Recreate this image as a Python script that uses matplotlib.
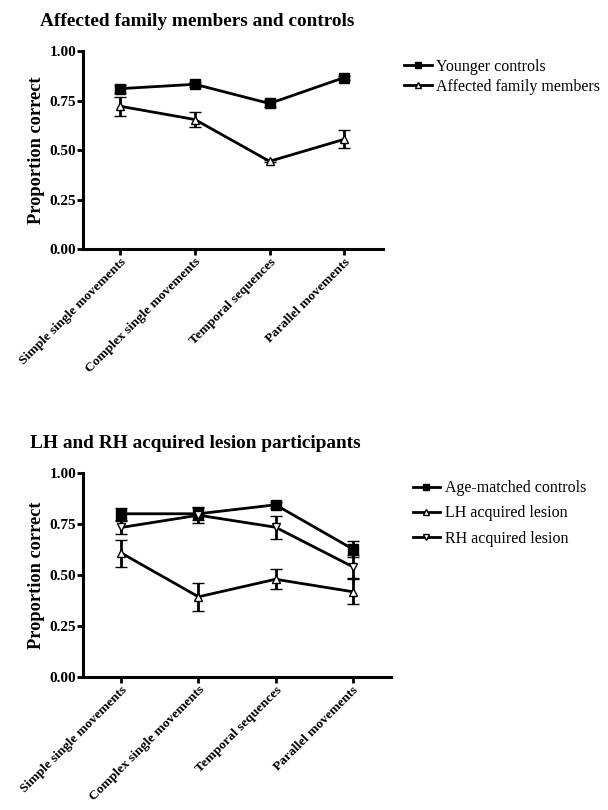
import matplotlib.pyplot as plt

plt.rcParams['font.family'] = ['Liberation Serif', 'DejaVu Serif']

# categories
tasks = ['Simple single movements', 'Complex single movements',
         'Temporal sequences', 'Parallel movements']

# top panel
younger_mean = [0.81, 0.832, 0.735, 0.866]
younger_err = [0.02, 0.012, 0.02, 0.01]
affected_mean = [0.721, 0.654, 0.443, 0.554]
affected_err = [0.048, 0.04, 0.006, 0.046]

# bottom panel
age_mean = [0.80, 0.80, 0.844, 0.628]
age_err = [0.03, 0.03, 0.015, 0.04]
lh_mean = [0.607, 0.393, 0.479, 0.418]
lh_err = [0.066, 0.068, 0.05, 0.062]
rh_mean = [0.733, 0.793, 0.734, 0.541]
rh_err = [0.03, 0.04, 0.057, 0.057]


def style_axes(ax):
    for s in ['top', 'right']:
        ax.spines[s].set_visible(False)
    for s in ['left', 'bottom']:
        ax.spines[s].set_linewidth(2.2)
    ax.set_ylim(0, 1.0)
    ax.set_yticks([0, 0.25, 0.5, 0.75, 1.0])
    ax.set_yticklabels(['0.00', '0.25', '0.50', '0.75', '1.00'],
                       fontsize=11, fontweight='bold')
    ax.tick_params(axis='both', width=2, length=4, pad=1)
    ax.set_xticks(range(len(tasks)))
    ax.set_xticklabels(tasks, rotation=45, ha='right', rotation_mode='anchor',
                       fontsize=9.7, fontweight='bold')
    ax.set_ylabel('Proportion correct', fontsize=13.2, fontweight='bold', labelpad=3)


def series(ax, y, err, marker, face, size):
    c = ax.errorbar(range(len(y)), y, yerr=err, color='black', lw=2,
                    marker=marker, ms=size, mfc=face, mec='black', mew=1,
                    capsize=4, capthick=2, elinewidth=2)
    return c[0]


fig = plt.figure(figsize=(6.08, 8.10), dpi=100)

ax1 = fig.add_axes([0.1365, 0.6926, 0.4934, 0.2444])
h1 = series(ax1, younger_mean, younger_err, 's', 'black', 7)
h2 = series(ax1, affected_mean, affected_err, '^', 'white', 6)
ax1.set_xlim(-0.5, 3.52)
style_axes(ax1)
fig.text(0.066, 0.973, 'Affected family members and controls',
         fontsize=13.9, fontweight='bold', va='center')
ax1.legend([h1, h2], ['Younger controls', 'Affected family members'],
           loc='upper left', bbox_to_anchor=(0.652, 0.937),
           bbox_transform=fig.transFigure, frameon=False, fontsize=11.5,
           handlelength=1.7, handletextpad=0.3, borderpad=0, labelspacing=0.25,
           markerscale=0.65)

ax2 = fig.add_axes([0.1365, 0.1642, 0.5066, 0.2519])
g1 = series(ax2, age_mean, age_err, 's', 'black', 7)
g2 = series(ax2, lh_mean, lh_err, '^', 'white', 6)
g3 = series(ax2, rh_mean, rh_err, 'v', 'white', 6)
ax2.set_xlim(-0.5, 3.5)
style_axes(ax2)
fig.text(0.050, 0.453, 'LH and RH acquired lesion participants',
         fontsize=13.9, fontweight='bold', va='center')
ax2.legend([g1, g2, g3],
           ['Age-matched controls', 'LH acquired lesion', 'RH acquired lesion'],
           loc='upper left', bbox_to_anchor=(0.666, 0.417),
           bbox_transform=fig.transFigure, frameon=False, fontsize=11.5,
           handlelength=1.7, handletextpad=0.3, borderpad=0, labelspacing=0.58,
           markerscale=0.65)

fig.savefig('out.png', dpi=100)
